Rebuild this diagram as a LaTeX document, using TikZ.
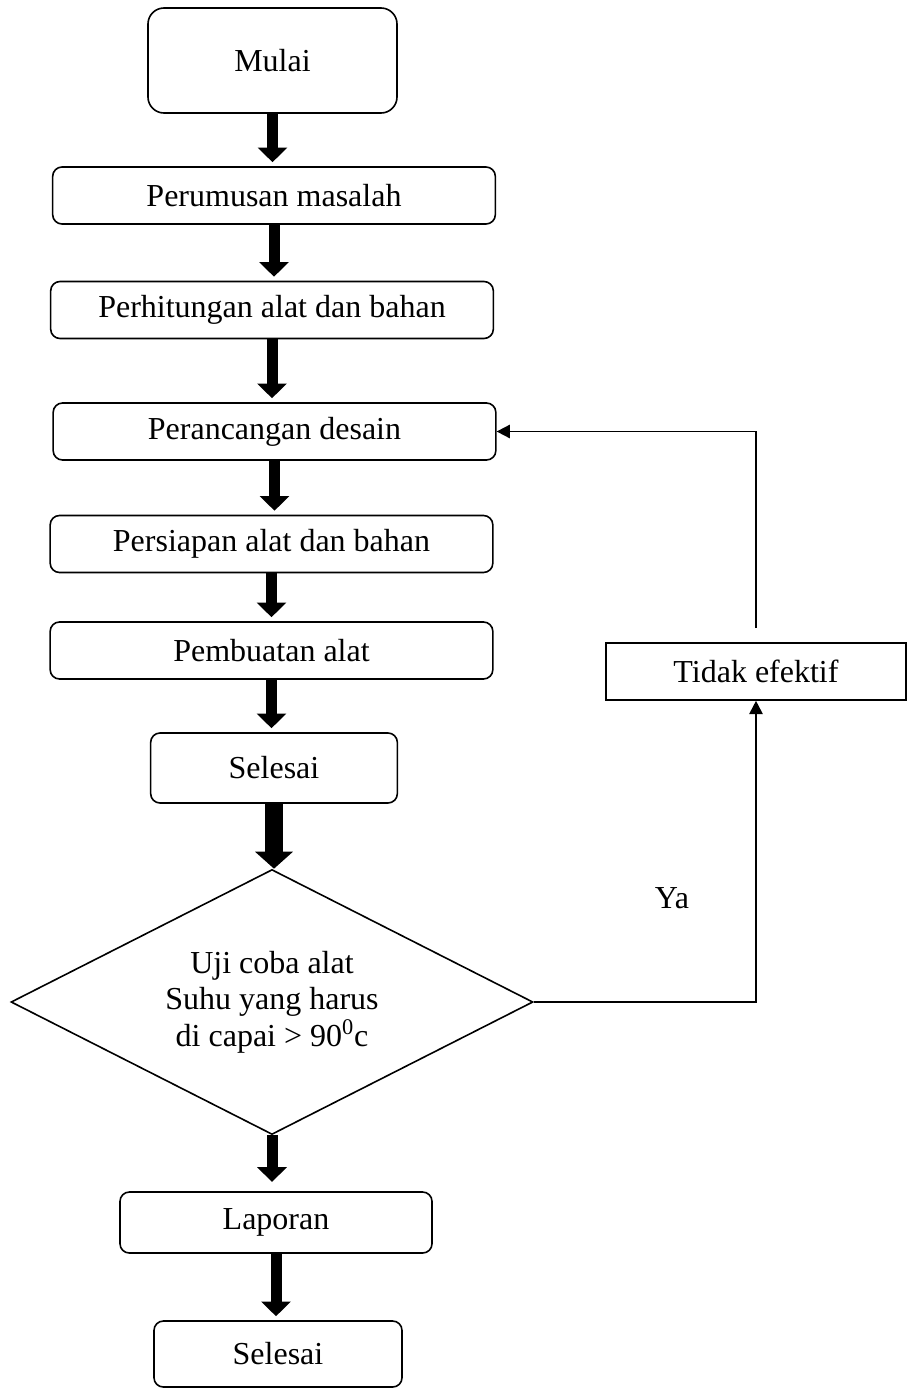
\documentclass[tikz,border=0pt]{standalone}
\usepackage{fontspec}
\setmainfont{Liberation Serif}
\usetikzlibrary{arrows.meta, positioning, shapes.geometric}
\tikzset{
  box/.style={rectangle,draw,rounded corners=7pt,align=center,line width=1.2pt,minimum width=332pt,minimum height=42.75pt},
  decision/.style={diamond,draw,aspect=1.97,align=center,line width=1.2pt,inner sep=0pt,minimum width=391.5pt,minimum height=198.75pt},
  line/.style={-{Triangle[width=10pt,length=10pt]},line width=1.4pt},
  blok/.style={-{Triangle[width=21.75pt,length=11pt]},line width=8.25pt,shorten >=3pt}
}

\begin{document}
\begin{tikzpicture}[x=0.75pt,y=-0.75pt,font=\fontsize{24}{27.5}\selectfont]
\useasboundingbox (0,0) rectangle (912,1389);
\node[box, rounded corners=12pt, minimum width=186.75pt, minimum height=78.75pt] (mulai) at (272.5,60.5) {Mulai};
\node[box] (rumus) at (274,195.5) {Perumusan masalah};
\node[box] (hitung) at (272,310) {Perhitungan alat dan bahan};
\node[box] (rancang) at (274.5,431.5) {Perancangan desain};
\node[box] (siap) at (271.5,544) {Persiapan alat dan bahan};
\node[box] (buat) at (271.5,650.5) {Pembuatan alat};
\node[box, minimum width=185pt, minimum height=52.5pt] (selesai) at (274,768) {Selesai};
\node[decision] (uji) at (272,1002) {Uji coba alat\\Suhu yang harus\\di capai > 90\textsuperscript{0}c};
\node[box, minimum width=234pt, minimum height=45.75pt] (laporan) at (276,1222.5) {Laporan};
\node[box, minimum width=186pt, minimum height=49.5pt] (akhir) at (278,1354) {Selesai};
\node[box, sharp corners, minimum width=225pt] (tidak) at (756,671.5) {Tidak efektif};
\node (ya) at (672,898) {Ya};
\draw[blok] (mulai.south) -- (mulai.south |- rumus.north);
\draw[blok] (rumus.south) -- (rumus.south |- hitung.north);
\draw[blok] (hitung.south) -- (hitung.south |- rancang.north);
\draw[blok] (rancang.south) -- (rancang.south |- siap.north);
\draw[blok] (siap.south) -- (siap.south |- buat.north);
\draw[blok] (buat.south) -- (buat.south |- selesai.north);
\draw[blok, line width=13.5pt, -{Triangle[width=27.75pt,length=12.75pt]}, shorten >=0pt] (selesai.south) -- (selesai.south |- uji.north);
\draw[blok, shorten >=7pt] (uji.south) -- (uji.south |- laporan.north);
\draw[blok] (laporan.south) -- (laporan.south |- akhir.north);
\draw[line] (uji.east) -- (uji.east -| tidak.south) -- (tidak.south);
\draw[line, shorten <=10.5pt] (tidak.north) |- (rancang.east);
\end{tikzpicture}
\end{document}
